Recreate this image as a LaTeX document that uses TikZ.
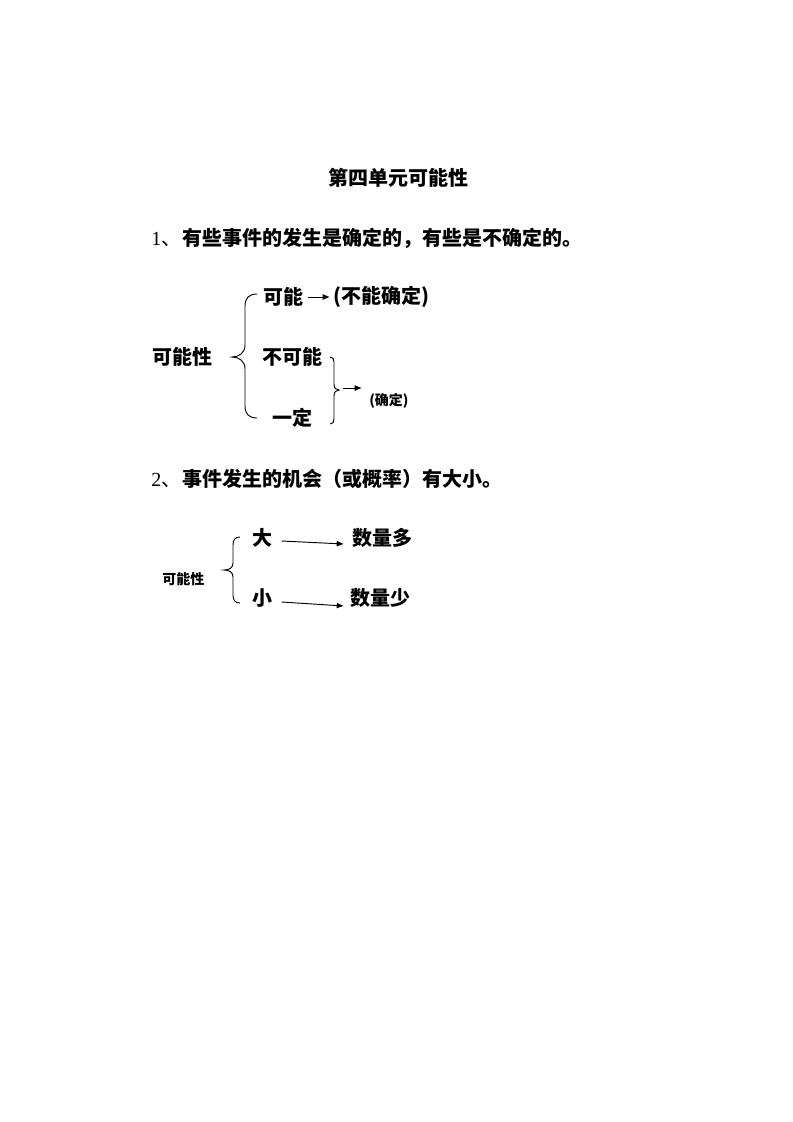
\documentclass[tikz,border=0pt]{standalone}
\usepackage{fontspec}
\setmainfont{Liberation Serif}
\newfontfamily\cjk{Noto Sans CJK SC}
\usetikzlibrary{arrows.meta,calc}
\tikzset{
  txt/.style={inner sep=0pt, anchor=west, font=\cjk\bfseries\fontsize{15}{17}\selectfont},
  small/.style={inner sep=0pt, anchor=west, font=\cjk\bfseries\fontsize{10.5}{12}\selectfont},
  brace/.style={line width=0.7pt},
  arr/.style={line width=0.7pt, -{Latex[length=5.5pt,width=4.5pt]}},
}
\begin{document}
\begin{tikzpicture}[x=0.75pt,y=-0.75pt]
\useasboundingbox (0,0) rectangle (793,1122);
% title and statements
\node[txt, anchor=center] (title) at (398,178) {第四单元可能性};
\node[txt] (line1) at (151,238) {{\rmfamily\mdseries 1}{\mdseries 、}\kern1pt 有些事件的发生是确定的，有些是不确定的。};
\node[txt] (line2) at (151,479) {{\rmfamily\mdseries 2}{\mdseries 、}\kern1pt 事件发生的机会（或概率）有大小。};
% diagram 1
\node[txt] (kns1) at (152,357) {可能性};
\node[txt] (kn) at (263,297) {可能};
\node[txt] (bnqd) at (333,297) {(不能确定)};
\node[txt] (bkn) at (262,357) {不可能};
\node[txt] (yd) at (272,418) {一定};
\node[small] (qd) at (369,401) {(确定)};
\draw[brace] (257,294) .. controls (249,294) and (245,298) .. (245,306) -- (245,345)
  .. controls (245,353) and (239,357) .. (232,357) .. controls (239,357) and (245,361) .. (245,369)
  -- (245,406) .. controls (245,414) and (249,418) .. (257,418);
\draw[brace] (330,357) .. controls (333,357) and (334,359) .. (334,362) -- (334,384)
  .. controls (334,388) and (336,390) .. (339,390) coordinate (tip3) .. controls (336,390) and (334,392) .. (334,396)
  -- (334,419) .. controls (334,422) and (333,424) .. (330,424);
\draw[arr] ($(kn.east)+(4,0)$) -- ($(bnqd.west)+(-3,0)$);
\coordinate (a3s) at ($(tip3)+(4,-2)$);
\coordinate (a3e) at ($(tip3)+(23,-2)$);
\draw[arr] (a3s) -- (a3e);
% diagram 2
\node[small] (kns2) at (162,579) {可能性};
\node[txt] (da) at (252,538) {大};
\node[txt] (shl) at (352,538) {数量多};
\node[txt] (xiao) at (252,598) {小};
\node[txt] (shs) at (350,598) {数量少};
\draw[brace] (240,537) .. controls (235,537) and (233,540) .. (233,545) -- (233,563)
  .. controls (233,568) and (229,570) .. (224,570) .. controls (229,570) and (233,572) .. (233,577)
  -- (233,595) .. controls (233,600) and (235,603) .. (240,603);
\draw[arr] ($(da.east)+(9,3)$) -- ($(shl.west)+(-8,6)$);
\draw[arr] ($(xiao.east)+(9,4)$) -- ($(shs.west)+(-6,8)$);
\end{tikzpicture}
\end{document}
